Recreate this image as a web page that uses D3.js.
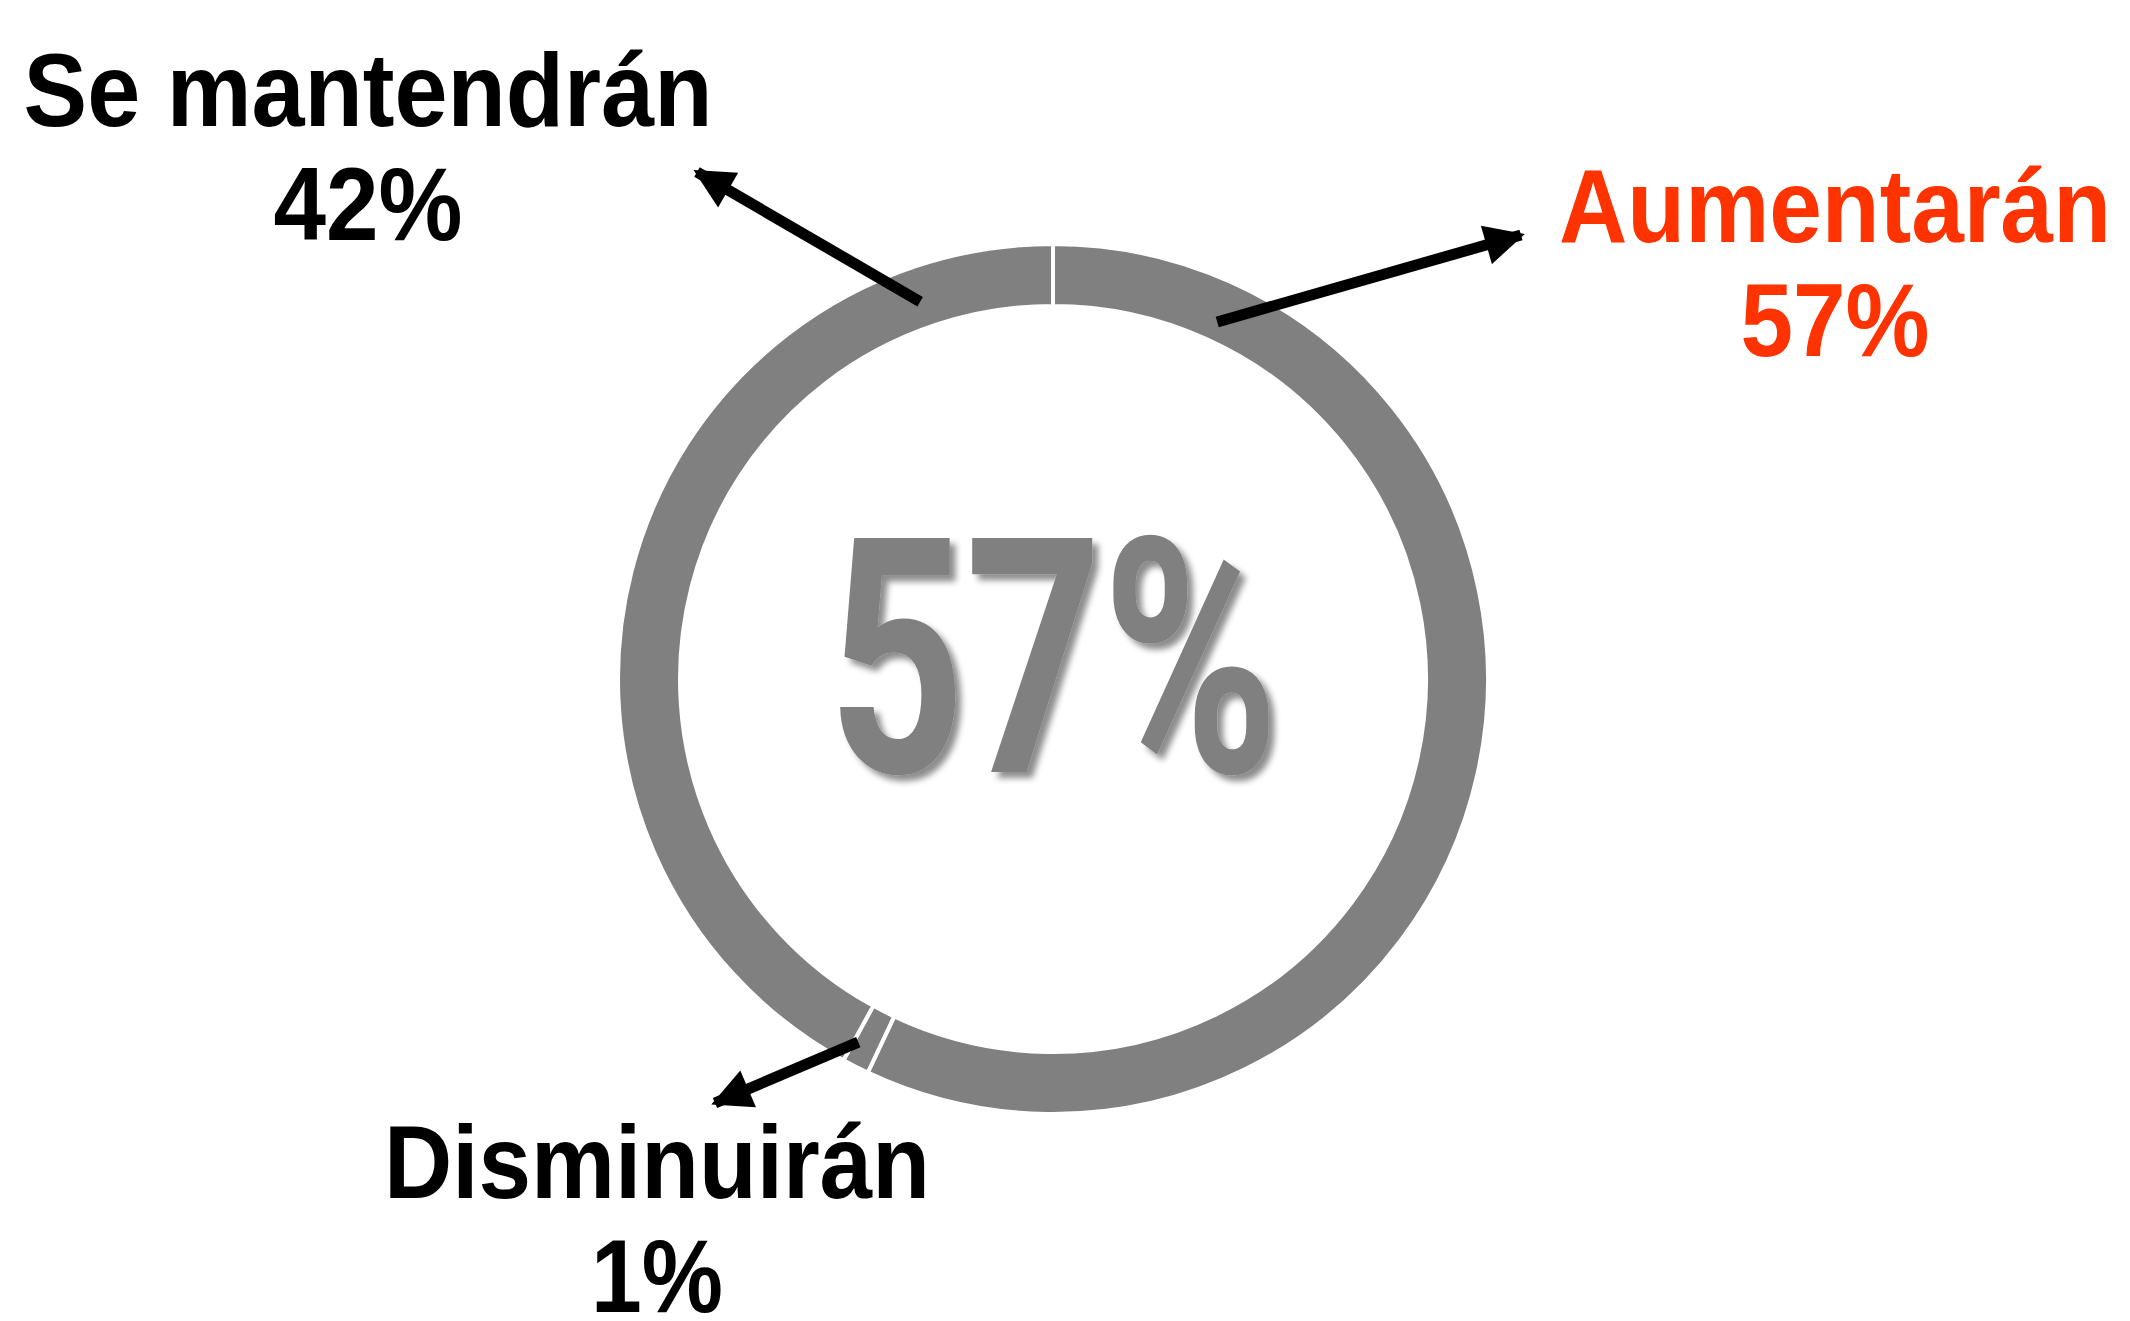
<!DOCTYPE html>
<html>
<head>
<meta charset="utf-8">
<script src="https://cdn.jsdelivr.net/npm/d3@7"></script>
<style>
    body { margin: 0; background: #fff; }
    svg { display: block; }
    .label { font-family: "Liberation Sans", Arial, sans-serif; font-weight: bold; }
</style>
</head>
<body>
<svg id="chart" width="2130" height="1321"></svg>
<script>
// data
const categories = ['Aumentarán', 'Disminuirán', 'Se mantendrán']
const values = [57, 1, 42]
const labelColors = ['#ff3300', '#000000', '#000000']
const centerLabel = '57%'

// layout only: callout start (degrees clockwise from top, radius), arrow tip, text centre/baseline, text widths
const callouts = [
    { angle: 24.7, r: 393, tip: [1521, 235], text: [1835, 242], w: [552, 189] },
    { angle: 208.2, r: 412, tip: [715, 1103], text: [657, 1198], w: [546, 132] },
    { angle: 340.6, r: 400, tip: [697, 172], text: [368, 126], w: [689, 189] }
]

const W = 2130, H = 1321
const CX = 1053, CY = 679
const R_OUT = 435, R_IN = 373
const RING_GREY = '#808080'
const LINE_GAP = 114
const LABEL_SIZE = 103

const svg = d3.select('#chart')

svg.append('defs').html(`
    <filter id="shadow" x="-10%" y="-10%" width="130%" height="130%">
        <feDropShadow dx="6" dy="6" stdDeviation="3" flood-color="#000" flood-opacity="0.45"></feDropShadow>
    </filter>
    <marker id="head" markerUnits="userSpaceOnUse" viewBox="0 0 10 10" refX="9" refY="5"
        markerWidth="42" markerHeight="40" orient="auto">
        <path d="M0,0 L10,5 L0,10 z" fill="#000"></path>
    </marker>
`)

const pie = d3.pie().sort(null).value(d => d)
const arcs = pie(values)
const arc = d3.arc().innerRadius(R_IN).outerRadius(R_OUT)

const g = svg.append('g').attr('transform', `translate(${CX},${CY})`)

g.selectAll('path.slice')
    .data(arcs)
    .join('path')
    .attr('class', 'slice')
    .attr('d', arc)
    .attr('fill', RING_GREY)
    .attr('stroke', '#fff')
    .attr('stroke-width', 4)

// big centre figure
g.append('text')
    .attr('x', -225)
    .attr('y', 93)
    .attr('textLength', 451)
    .attr('lengthAdjust', 'spacingAndGlyphs')
    .attr('font-family', 'Roboto, sans-serif')
    .attr('font-weight', 'bold')
    .attr('font-size', 329)
    .attr('fill', RING_GREY)
    .attr('filter', 'url(#shadow)')
    .text(centerLabel)

// callout arrows
const startOf = i => {
    const c = callouts[i]
    const t = c.angle * Math.PI / 180
    return [CX + c.r * Math.sin(t), CY - c.r * Math.cos(t)]
}

svg.selectAll('line.callout')
    .data(arcs)
    .join('line')
    .attr('class', 'callout')
    .attr('x1', (d, i) => startOf(i)[0])
    .attr('y1', (d, i) => startOf(i)[1])
    .attr('x2', (d, i) => callouts[i].tip[0])
    .attr('y2', (d, i) => callouts[i].tip[1])
    .attr('stroke', '#000')
    .attr('stroke-width', 11)
    .attr('marker-end', 'url(#head)')

// labels: name on one line, percentage below; squeezed horizontally to the target width
const fitText = (parent, str, cx, y, width, color) => {
    const holder = parent.append('g')
    const t = holder.append('text')
        .attr('class', 'label')
        .attr('text-anchor', 'middle')
        .attr('font-size', LABEL_SIZE)
        .attr('fill', color)
        .text(str)
    const natural = t.node().getComputedTextLength()
    holder.attr('transform', `translate(${cx},${y}) scale(${width / natural},1)`)
}

arcs.forEach((d, i) => {
    const c = callouts[i]
    const lbl = svg.append('g').attr('class', 'lbl')
    fitText(lbl, categories[i], c.text[0], c.text[1], c.w[0], labelColors[i])
    fitText(lbl, `${d.data}%`, c.text[0], c.text[1] + LINE_GAP, c.w[1], labelColors[i])
})
</script>
</body>
</html>
